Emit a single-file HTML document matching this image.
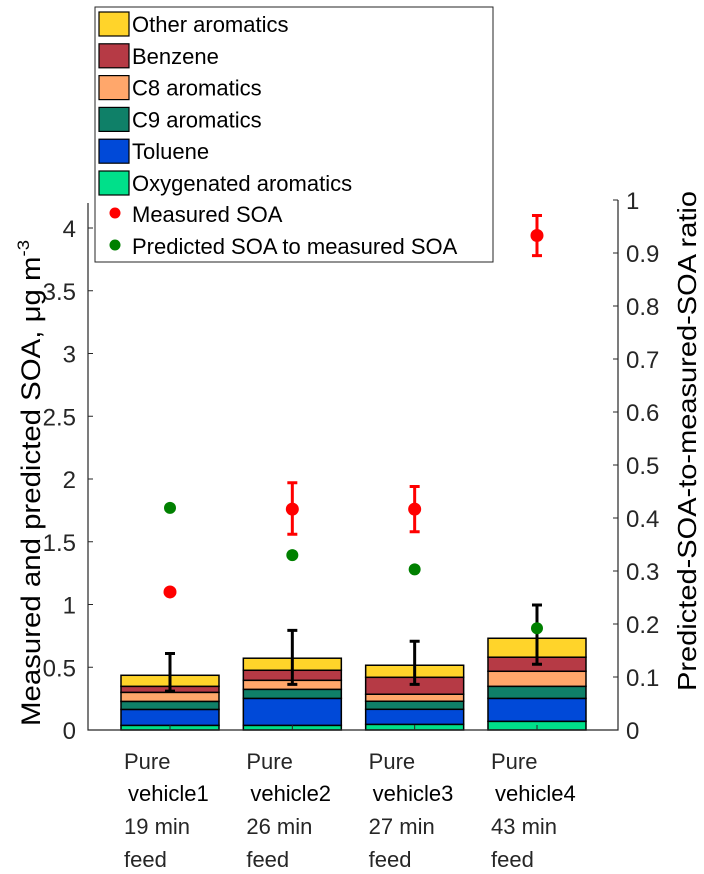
<!DOCTYPE html>
<html><head><meta charset="utf-8"><style>
body{margin:0;background:#fff;}
svg{display:block;font-family:"Liberation Sans",Arial,sans-serif;}
</style></head><body>
<svg id="chart" width="704" height="874"></svg>
<script>
const categories=["1","2","3","4"];
const catMinutes=["19 min","26 min","27 min","43 min"];
const seriesNames=["Oxygenated aromatics","Toluene","C9 aromatics","C8 aromatics","Benzene","Other aromatics"];
const oxy=[0.037,0.037,0.045,0.069];
const toluene=[0.127,0.215,0.12,0.183];
const c9=[0.064,0.072,0.064,0.096];
const c8=[0.072,0.072,0.056,0.12];
const benzene=[0.048,0.08,0.135,0.112];
const other=[0.088,0.096,0.096,0.151];
const predErrHi=[0.61,0.794,0.707,0.996];
const predErrLo=[0.31,0.364,0.364,0.524];
const measured=[1.10,1.76,1.76,3.94];
const measHi=[null,1.97,1.94,4.10];
const measLo=[null,1.56,1.58,3.78];
const ratio=[0.419,0.330,0.303,0.192];
const leftTicks=["0","0.5","1","1.5","2","2.5","3","3.5","4"];
const rightTicks=["0","0.1","0.2","0.3","0.4","0.5","0.6","0.7","0.8","0.9","1"];

const colors=["#00E08A","#0049D8","#0F8068","#FFA76B","#B63A45","#FFD42A"];
const L=88,R=618,B=730,T=203;
const yL=v=>B-v*125.5;
const yR=v=>B-v*(B-200);
const xC=i=>170+i*122.33;
const svg=document.getElementById('chart');
const NS='http://www.w3.org/2000/svg';
function mk(tag,a,p){const e=document.createElementNS(NS,tag);for(const k in a)e.setAttribute(k,a[k]);(p||svg).appendChild(e);return e;}

const stacks=[oxy,toluene,c9,c8,benzene,other];
categories.forEach((c,i)=>{
  let base=0;
  stacks.forEach((s,j)=>{
    const r=mk('rect',{x:xC(i)-49,y:yL(base+s[i]),width:98,height:yL(base)-yL(base+s[i]),fill:colors[j],stroke:'#000','stroke-width':1.5});
    
    
    base+=s[i];
  });
  const eb=mk('path',{d:`M${xC(i)},${yL(predErrHi[i])}V${yL(predErrLo[i])}M${xC(i)-5},${yL(predErrHi[i])}h10M${xC(i)-5},${yL(predErrLo[i])}h10`,stroke:'#000','stroke-width':3,fill:'none'});
  
  
});
const ax=mk('path',{d:`M${L},${T}V${B}H${R}V200`,stroke:'#262626','stroke-width':1.2,fill:'none'});


leftTicks.forEach(t=>{
  const y=yL(+t);
  mk('path',{d:`M${L},${y}h5`,stroke:'#262626'});
  const tx=mk('text',{x:L-12,y:y+9,'text-anchor':'end','font-size':24,fill:'#262626'});
  tx.textContent=t;
  
  
});
rightTicks.forEach(t=>{
  const y=yR(+t);
  mk('path',{d:`M${R},${y}h-5`,stroke:'#262626'});
  const tx=mk('text',{x:R+8,y:y+9,'font-size':24,fill:'#262626'});
  tx.textContent=t;
  
  
});
categories.forEach((c,i)=>{
  mk('path',{d:`M${xC(i)},${B}v-5`,stroke:'#262626'});
  const x=xC(i)-46;
  const g=mk('text',{'font-size':22,fill:'#262626'});
  
  
  [["Pure",x,769],["vehicle"+c,x+4,801],[catMinutes[i],x,834],["feed",x,867]].forEach((l,k)=>{
    const ts=mk('tspan',{x:l[1],y:l[2],fill:k==1?'#000':'#262626'},g);ts.textContent=l[0];
  });
});
measured.forEach((v,i)=>{
  if(measHi[i]!==null){
    const e=mk('path',{d:`M${xC(i)},${yL(measHi[i])}V${yL(measLo[i])}M${xC(i)-5},${yL(measHi[i])}h10M${xC(i)-5},${yL(measLo[i])}h10`,stroke:'#f00','stroke-width':3,fill:'none'});
    
    
  }
  const d=mk('circle',{cx:xC(i),cy:yL(v),r:6.5,fill:'#f00'});
  
  
});
ratio.forEach((v,i)=>{
  const d=mk('circle',{cx:xC(i),cy:yR(v),r:6,fill:'#008000'});
  
  
});
const yt=mk('text',{transform:'translate(40,483) rotate(-90)','text-anchor':'middle','font-size':27,fill:'#000',textLength:486,lengthAdjust:'spacingAndGlyphs'});
yt.innerHTML='Measured and predicted SOA, μg m<tspan dy="-11" font-size="17">-3</tspan>';


const rt=mk('text',{transform:'translate(696,441) rotate(-90)','text-anchor':'middle','font-size':26,fill:'#000',textLength:500,lengthAdjust:'spacingAndGlyphs'});
rt.textContent='Predicted-SOA-to-measured-SOA ratio';


const lg=mk('g',{});


mk('rect',{x:95,y:7,width:398,height:255,fill:'#fff',stroke:'#262626','stroke-width':1},lg);
const legItems=[["Other aromatics",5],["Benzene",4],["C8 aromatics",3],["C9 aromatics",2],["Toluene",1],["Oxygenated aromatics",0]];
legItems.forEach((it,k)=>{
  const y=24+k*31.8;
  const s=mk('rect',{x:99,y:y-12,width:30,height:24,fill:colors[it[1]],stroke:'#000','stroke-width':1.2},lg);
  
  
  const t=mk('text',{x:132,y:y+8,'font-size':22,fill:'#000'},lg);t.textContent=it[0];
  
  
});
[["Measured SOA","#f00",214],["Predicted SOA to measured SOA","#008000",246]].forEach(it=>{
  mk('circle',{cx:115,cy:it[2]-1,r:5.5,fill:it[1]},lg);
  const t=mk('text',{x:132,y:it[2]+8,'font-size':22,fill:'#000'},lg);t.textContent=it[0];
  
  
});
</script>
</body></html>
